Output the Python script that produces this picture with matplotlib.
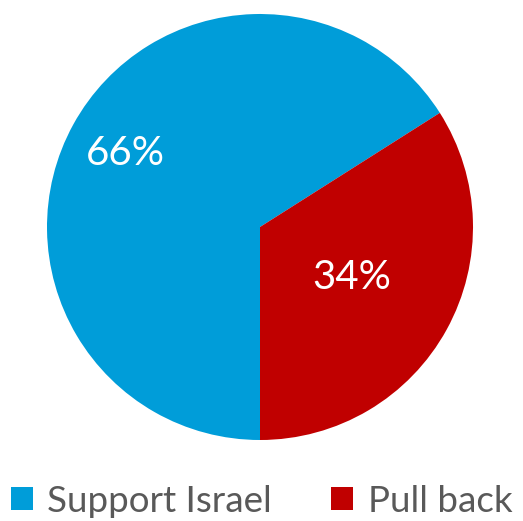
import numpy as np
import matplotlib.pyplot as plt
from matplotlib.patches import Patch

# dados
categorias = ['Support Israel', 'Pull back']
valores = [66, 34]
cores = ['#009DD9', '#C00000']

plt.rcParams['font.family'] = ['Lato', 'DejaVu Sans']

fig = plt.figure(figsize=(5.23, 5.21), dpi=100)
ax = fig.add_axes([47 / 523, 81 / 521, 426 / 523, 426 / 521])

fatias, _ = ax.pie(valores, colors=cores, startangle=270, counterclock=False,
                   radius=1.0, wedgeprops=dict(linewidth=0))
ax.set_xlim(-1, 1)
ax.set_ylim(-1, 1)
ax.set_aspect('equal')

# rótulos percentuais dentro das fatias
distancias = [0.72, 0.49]
for fatia, v, d in zip(fatias, valores, distancias):
    ang = np.deg2rad((fatia.theta1 + fatia.theta2) / 2)
    ax.text(d * np.cos(ang), d * np.sin(ang), f'{v}%', color='white',
            fontsize=29, ha='center', va='center')

# legenda
handles = [Patch(facecolor=c, edgecolor='none') for c in cores]
fig.legend(handles, categorias, loc='center', bbox_to_anchor=(0.5, 1 - 501 / 521),
           ncol=2, frameon=False, fontsize=26.5, labelcolor='#595959',
           handlelength=0.6, handleheight=0.6, handletextpad=0.4, columnspacing=1.6)

fig.savefig('out.png', dpi=100)
